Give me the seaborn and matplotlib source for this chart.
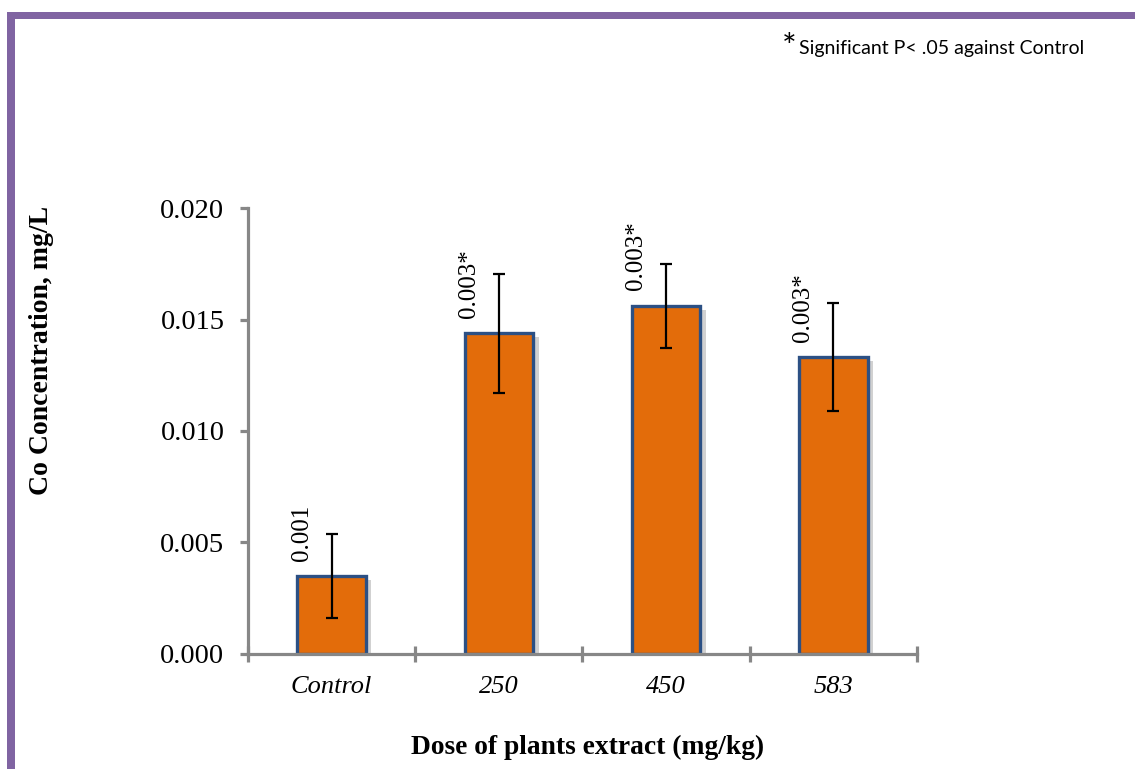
import matplotlib
matplotlib.use("Agg")
import matplotlib.pyplot as plt
import matplotlib.patheffects as pe
from matplotlib.patches import Rectangle
from matplotlib.ticker import FixedLocator
import numpy as np
import pandas as pd
import seaborn as sns

# data
doses = ["Control", "250", "450", "583"]
co_mean = [0.00350, 0.01438, 0.01562, 0.01332]
co_err = [0.00190, 0.00268, 0.00188, 0.00243]
bar_labels = ["0.001", "0.003*", "0.003*", "0.003*"]
y_ticks = [0.000, 0.005, 0.010, 0.015, 0.020]

sns.set_style("white")
plt.rcParams["font.family"] = ["Liberation Serif", "DejaVu Serif"]
plt.rcParams["text.color"] = "black"
plt.rcParams["axes.labelcolor"] = "black"
plt.rcParams["xtick.labelcolor"] = "black"
plt.rcParams["ytick.labelcolor"] = "black"

df = pd.DataFrame({"dose": doses, "co": co_mean})

fig = plt.figure(figsize=(11.35, 7.69), dpi=100)
ax = fig.add_axes([0.2185, 0.1496, 0.5894, 0.5799])

sns.barplot(data=df, x="dose", y="co", order=doses, errorbar=None,
            color="#E36C0A", saturation=1, width=0.41,
            edgecolor="#2C5084", linewidth=2.4, ax=ax)

# soft drop shadow like the Excel original
for p in ax.patches:
    p.set_path_effects([pe.SimplePatchShadow(offset=(4, -3), shadow_rgbFace="#9a9a9a", alpha=0.45),
                        pe.Normal()])

xpos = np.arange(len(doses))
ax.errorbar(xpos, co_mean, yerr=co_err, fmt="none", ecolor="black",
            elinewidth=1.6, capsize=4.5, capthick=1.6, zorder=5)

for x, v, lab in zip(xpos, co_mean, bar_labels):
    ax.annotate(lab, xy=(x - 0.18, v), xytext=(0, 11), textcoords="offset points",
                rotation=90, ha="center", va="bottom", fontsize=18)

ax.set_xlim(-0.5, 3.5)
ax.set_ylim(0, 0.020)
ax.set_yticks(y_ticks)
ax.set_yticklabels([f"{t:.3f}" for t in y_ticks])
ax.xaxis.set_minor_locator(FixedLocator([-0.5, 0.5, 1.5, 2.5, 3.5]))

axis_gray = "#878787"
for side in ["top", "right"]:
    ax.spines[side].set_visible(False)
for side in ["left", "bottom"]:
    ax.spines[side].set_color(axis_gray)
    ax.spines[side].set_linewidth(2.3)

ax.tick_params(axis="y", which="major", direction="out", length=6, width=2.3,
               color=axis_gray, labelsize=20.5, pad=11, left=True)
ax.tick_params(axis="x", which="major", length=0, labelsize=19, pad=16)
ax.tick_params(axis="x", which="minor", direction="inout", length=11, width=2.3,
               color=axis_gray, bottom=True)
for t in ax.get_xticklabels():
    t.set_fontstyle("italic")

ax.set_xlabel("Dose of plants extract (mg/kg)", fontsize=19.8, fontweight="bold")
ax.xaxis.set_label_coords(0.508, -0.182)
ax.set_ylabel("Co Concentration, mg/L", fontsize=20, fontweight="bold")
ax.yaxis.set_label_coords(-0.29, 0.68)

# significance note
fig.text(0.689, 0.938, "*", fontsize=25, family=["Lato", "DejaVu Sans"], ha="left", va="center")
fig.text(0.704, 0.937, "Significant P< .05 against Control", fontsize=14,
         family=["Lato", "DejaVu Sans"], ha="left", va="center")

# purple frame around the figure
purple = "#8064A2"
fig.patches.append(Rectangle((7 / 1135, 1 - 19 / 769), 1, 7 / 769, transform=fig.transFigure,
                             facecolor=purple, edgecolor="none"))
fig.patches.append(Rectangle((7 / 1135, 0), 8 / 1135, 1 - 12 / 769, transform=fig.transFigure,
                             facecolor=purple, edgecolor="none"))

fig.savefig("out.png", dpi=100)
